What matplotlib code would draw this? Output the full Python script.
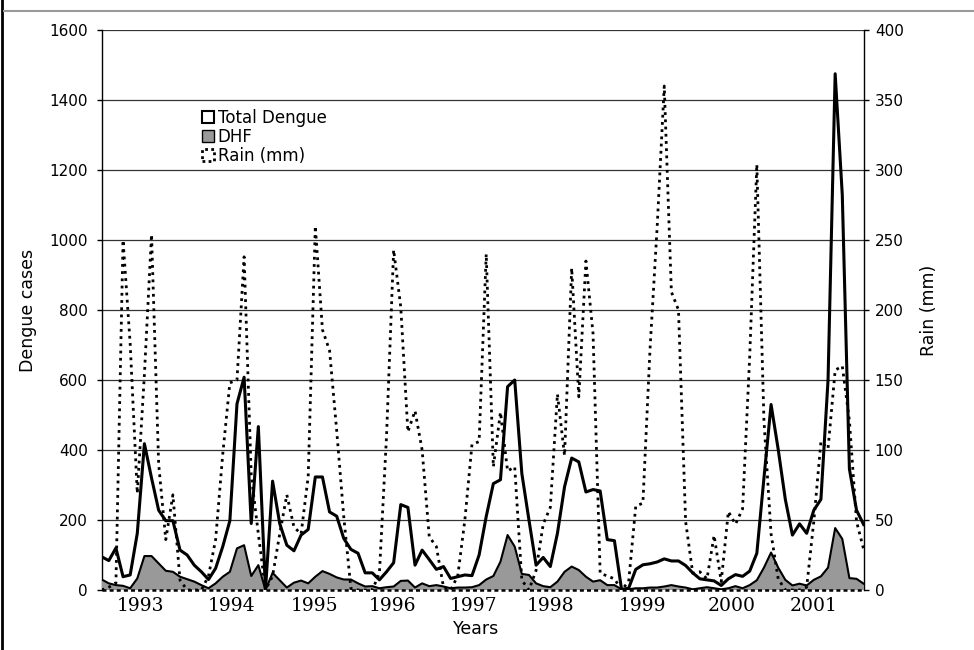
import numpy as np
import matplotlib
matplotlib.use('Agg')
import matplotlib.pyplot as plt
from matplotlib.patches import Patch
from matplotlib.lines import Line2D

# monthly values, Jan 1993 - Dec 2001
total_dengue = [95, 84, 120, 38, 43, 162, 418, 320, 228, 198, 198, 114,
                100, 71, 52, 30, 62, 124, 198, 532, 608, 190, 467, 0,
                311, 190, 128, 112, 157, 173, 323, 323, 223, 211, 147, 116,
                105, 49, 49, 29, 52, 78, 244, 236, 71, 114, 87, 59,
                67, 33, 38, 43, 41, 100, 210, 304, 315, 581, 600, 333,
                200, 71, 93, 67, 162, 295, 377, 366, 280, 287, 283, 144,
                141, 2, 5, 59, 72, 75, 80, 89, 83, 83, 70, 49,
                32, 29, 26, 13, 32, 44, 39, 54, 105, 320, 530, 402,
                259, 157, 189, 162, 228, 259, 600, 1475, 1129, 346, 228, 187]

dhf = [30, 19, 14, 12, 5, 33, 97, 97, 76, 55, 52, 38,
       31, 24, 14, 5, 19, 38, 52, 119, 128, 40, 71, 0,
       49, 28, 7, 21, 27, 19, 38, 54, 46, 36, 30, 30,
       19, 10, 11, 5, 8, 10, 26, 27, 7, 19, 11, 14,
       10, 5, 7, 7, 8, 14, 30, 40, 81, 157, 124, 46,
       43, 19, 11, 8, 24, 52, 67, 57, 38, 24, 28, 14,
       14, 2, 2, 5, 5, 7, 7, 10, 14, 10, 7, 2,
       5, 8, 5, 2, 5, 11, 5, 14, 28, 64, 107, 64,
       29, 13, 18, 13, 29, 39, 64, 177, 146, 34, 32, 18]

rain_mm = [0, 2, 5, 250, 176, 69, 154, 254, 90, 36, 68, 7,
           0, 0, 0, 10, 36, 97, 148, 150, 238, 82, 40, 0,
           10, 40, 68, 45, 40, 81, 260, 186, 171, 114, 52, 1,
           0, 0, 0, 12, 110, 243, 202, 113, 128, 100, 38, 31,
           2, 0, 10, 50, 104, 106, 240, 88, 127, 85, 88, 7,
           0, 14, 47, 59, 140, 96, 230, 138, 235, 183, 12, 10,
           8, 0, 6, 60, 62, 172, 259, 360, 213, 200, 49, 12,
           13, 8, 39, 6, 56, 47, 58, 167, 304, 121, 40, 8,
           0, 0, 0, 2, 49, 106, 101, 157, 160, 121, 49, 29]

years = ['1993', '1994', '1995', '1996', '1997', '1998', '1999', '2000', '2001']
# where the year labels sit (in month index units)
year_pos = [5.4, 18.3, 29.9, 40.8, 52.2, 63.1, 75.9, 88.4, 100.0]

months = np.arange(len(total_dengue))

plt.rcParams['font.family'] = 'DejaVu Sans'

fig = plt.figure(figsize=(9.74, 6.5), dpi=100)
ax = fig.add_axes([0.1044, 0.0923, 0.7823, 0.8615])

# left axis - dengue cases
ax.set_xlim(0, len(months) - 1)
ax.set_ylim(0, 1600)
ax.set_yticks(np.arange(0, 1601, 200))
ax.grid(axis='y', color='#333333', lw=0.9)
ax.set_axisbelow(True)

ax.plot(months, total_dengue, color='black', lw=2.2, zorder=4)
ax.fill_between(months, dhf, 0, facecolor='#999999', edgecolor='none', zorder=3)
ax.plot(months, dhf, color='black', lw=1.5, zorder=3)

# dashed base line
ax.axhline(0, color='black', lw=1.8, linestyle=(0, (1.6, 1.25)), clip_on=False, zorder=5)

for s in ['top', 'right', 'bottom']:
    ax.spines[s].set_visible(False)
ax.spines['left'].set_linewidth(1)

ax.tick_params(axis='y', direction='out', length=3.5, width=1, labelsize=11, pad=6.5)
ax.set_xticks(year_pos, years, fontfamily='DejaVu Serif', fontsize=13.5)
ax.tick_params(axis='x', length=0, pad=5)

ax.set_ylabel('Dengue cases', fontsize=12.5)
ax.yaxis.set_label_coords(-0.085, 0.5)
ax.set_xlabel('Years', fontsize=12.5)
ax.xaxis.set_label_coords(0.491, -0.054)

# right axis - rain
ax2 = ax.twinx()
ax2.set_ylim(0, 400)
ax2.set_yticks(np.arange(0, 401, 50))
ax2.plot(months, rain_mm, color='black', lw=2, linestyle=(0, (1, 1.6)),
         dash_capstyle='butt', zorder=5)
for s in ['top', 'left', 'bottom']:
    ax2.spines[s].set_visible(False)
ax2.spines['right'].set_linewidth(1)
ax2.tick_params(axis='y', direction='out', length=3.5, width=1, labelsize=11, pad=4.5)
ax2.set_ylabel('Rain (mm)', fontsize=12.5)
ax2.yaxis.set_label_coords(1.074, 0.5)

# legend
handles = [Patch(facecolor='white', edgecolor='black', lw=1.5),
           Patch(facecolor='#999999', edgecolor='black', lw=1),
           Patch(facecolor='white', edgecolor='black', lw=2, linestyle=(0, (1, 1.2)))]
fig.legend(handles, ['Total Dengue', 'DHF', 'Rain (mm)'], loc='upper left',
           bbox_to_anchor=(202 / 974, 1 - 109 / 650), frameon=False, fontsize=12,
           handlelength=0.7, handleheight=0.7, handletextpad=0.25,
           labelspacing=0.05, borderpad=0, borderaxespad=0)

# frame lines of the original figure
fig.add_artist(Line2D([0.002, 0.002], [0, 1], transform=fig.transFigure, color='black', lw=2))
fig.add_artist(Line2D([0.004, 1], [0.9835, 0.9835], transform=fig.transFigure, color='#999999', lw=1.5))

fig.savefig('out.png', dpi=100)
